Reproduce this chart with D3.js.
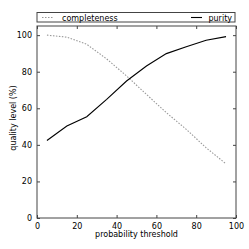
<!DOCTYPE html>
<html>
<head>
<meta charset="utf-8">
<script src="https://cdn.jsdelivr.net/npm/d3@7"></script>
<style>
  html, body { margin: 0; padding: 0; background: #fff; }
  text { font-family: "DejaVu Sans", sans-serif; }
</style>
</head>
<body>
<div id="chart"></div>
<script>
// probability thresholds (x) and the two quality curves (%)
const thresholds = [5, 15, 25, 35, 45, 55, 65, 75, 85, 95];
const completeness = [100, 98.9, 95, 87, 77.7, 67.6, 57.6, 48.5, 38.4, 29.6];
const purity = [42.4, 50.3, 55.4, 64.9, 74.9, 83.1, 89.9, 93.7, 97.2, 99.2];
const xTicks = [0, 20, 40, 60, 80, 100];
const yTicks = [0, 20, 40, 60, 80, 100];

let margin = { top: 26, right: 13, bottom: 31, left: 37 };
let width = 249 - margin.left - margin.right;
let height = 249 - margin.top - margin.bottom;

let svg = d3.select("#chart").append("svg")
    .attr("width", 249)
    .attr("height", 249);

let g = svg.append("g").attr("transform", "translate(" + margin.left + "," + margin.top + ")");

let x = d3.scaleLinear().domain([0, 100]).range([0, width]);
let y = d3.scaleLinear().domain([0, 105]).range([height, 0]);

let line = d3.line()
    .x(function (d) { return x(d[0]); })
    .y(function (d) { return y(d[1]); });

g.append("path")
    .datum(d3.zip(thresholds, completeness))
    .attr("fill", "none")
    .attr("stroke", "#999")
    .attr("stroke-width", 1.1)
    .attr("stroke-dasharray", "1.5,1.5")
    .attr("d", line);

g.append("path")
    .datum(d3.zip(thresholds, purity))
    .attr("fill", "none")
    .attr("stroke", "#000")
    .attr("stroke-width", 1.1)
    .attr("d", line);

// axes with inward ticks on all four sides
function styleAxis(sel) {
    sel.select(".domain").remove();
    sel.selectAll("line").attr("stroke", "#444");
    sel.selectAll("text").style("font", "8px 'DejaVu Sans'").attr("fill", "#000");
}

g.append("g")
    .attr("transform", "translate(0," + height + ")")
    .call(d3.axisBottom(x).tickValues(xTicks).tickSizeInner(-3).tickPadding(5))
    .call(styleAxis);

g.append("g")
    .call(d3.axisTop(x).tickValues(xTicks).tickSizeInner(-3).tickFormat(""))
    .call(styleAxis);

g.append("g")
    .call(d3.axisLeft(y).tickValues(yTicks).tickSizeInner(-3).tickPadding(5))
    .call(styleAxis);

g.append("g")
    .attr("transform", "translate(" + width + ",0)")
    .call(d3.axisRight(y).tickValues(yTicks).tickSizeInner(-3).tickFormat(""))
    .call(styleAxis);

g.append("rect")
    .attr("width", width)
    .attr("height", height)
    .attr("fill", "none")
    .attr("stroke", "#444")
    .attr("stroke-width", 1);

g.append("text")
    .attr("x", width / 2)
    .attr("y", height + 19)
    .attr("text-anchor", "middle")
    .style("font", "8px 'DejaVu Sans'")
    .text("probability threshold");

g.append("text")
    .attr("transform", "translate(-21," + (height / 2 - 4) + ") rotate(-90)")
    .attr("text-anchor", "middle")
    .style("font", "8px 'DejaVu Sans'")
    .text("quality level (%)");

// legend spanning the axes width, above the plot
let legend = svg.append("g").attr("transform", "translate(" + margin.left + ",12.5)");

legend.append("rect")
    .attr("width", width - 1)
    .attr("height", 9.5)
    .attr("fill", "#fff")
    .attr("stroke", "#444");

legend.append("line")
    .attr("x1", 5).attr("x2", 16).attr("y1", 5).attr("y2", 5)
    .attr("stroke", "#999")
    .attr("stroke-width", 1.1)
    .attr("stroke-dasharray", "1.5,1.5");

legend.append("text")
    .attr("x", 25).attr("y", 8)
    .style("font", "8px 'DejaVu Sans'")
    .text("completeness");

legend.append("line")
    .attr("x1", 154).attr("x2", 165).attr("y1", 5).attr("y2", 5)
    .attr("stroke", "#000")
    .attr("stroke-width", 1.1);

legend.append("text")
    .attr("x", width - 4).attr("y", 8)
    .attr("text-anchor", "end")
    .style("font", "8px 'DejaVu Sans'")
    .text("purity");
</script>
</body>
</html>
